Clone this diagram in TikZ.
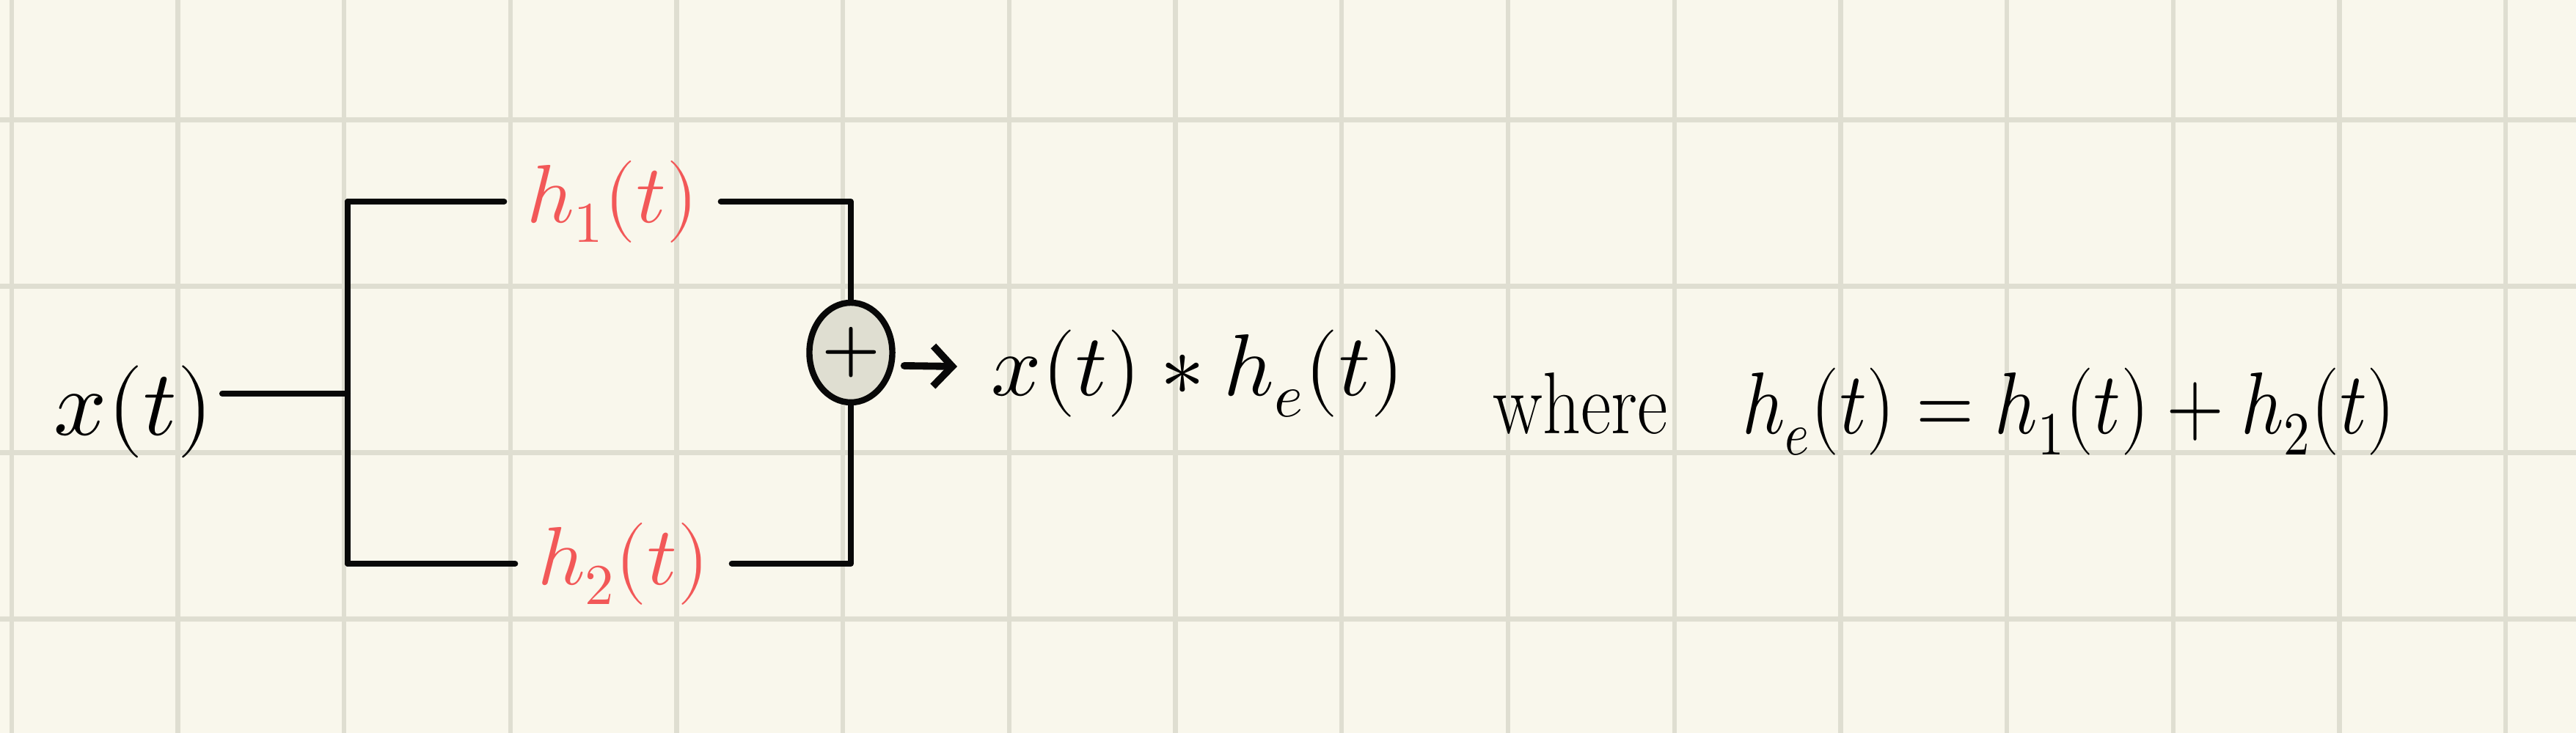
\documentclass[tikz,border=0pt]{standalone}
\usepackage{amsmath}
\usepackage{unicode-math}
\setmathfont{Latin Modern Math}
\usetikzlibrary{shapes.geometric,arrows.meta,positioning}

\definecolor{paper}{RGB}{249,247,236}
\definecolor{gridc}{RGB}{223,222,209}
\definecolor{ink}{RGB}{8,8,8}
\definecolor{penred}{RGB}{242,88,88}

\tikzset{
  gridline/.style={gridc, line width=1.8pt},
  wire/.style={ink, line width=2.3pt, line cap=round, line join=round},
  lbl/.style={inner sep=0pt, font=\fontsize{36}{40}\selectfont},
  redlbl/.style={lbl, text=penred, font=\fontsize{32}{36}\selectfont, inner xsep=0.3cm},
  sumnode/.style={ellipse, draw=ink, fill=gridc, line width=2.4pt,
    minimum width=1.0cm, minimum height=1.36cm, inner sep=0pt,
    font=\fontsize{26}{26}\selectfont\bfseries},
  arr/.style={wire, line width=2.8pt, -{Straight Barb[length=2.6mm, width=5.5mm]}},
}

\begin{document}
\begin{tikzpicture}
\useasboundingbox (0,0) rectangle (35.12,10);

% Paper with grid
\fill[paper] (0,0) rectangle (35.12,10);
\foreach \i in {0,...,15}
  \draw[gridline] ({0.157+2.267*\i},0) -- ++(0,10);
\foreach \j in {0,...,3}
  \draw[gridline] (0,{1.555+2.27*\j}) -- ++(35.12,0);

% Input and split point
\node[lbl, inner xsep=0.12cm] (xin) at (1.82,4.38) {$x(t)$};
\coordinate (split) at (4.74,4.63);
\coordinate (top) at (4.74,7.25);
\coordinate (bot) at (4.74,2.31);

% Two systems in parallel
\node[redlbl] (h1) at (8.35,7.25) {$h_1(t)$};
\node[redlbl] (h2) at (8.50,2.31) {$h_2(t)$};

% Adder
\node[sumnode] (sum) at (11.60,5.19) {+};

\draw[wire] (xin.east |- split) -- (split);
\draw[wire] (top) -- (bot);
\draw[wire] (top) -- (h1.west |- top);
\draw[wire] (bot) -- (h2.west |- bot);
\draw[wire] (h1.east) -| (sum.north);
\draw[wire] (h2.east) -| (sum.south);

% Output
\node[lbl, font=\fontsize{34}{38}\selectfont, anchor=west] (out) at (13.51,4.90) {$x(t) * h_e(t)$};
\draw[arr] ([xshift=0.12cm,yshift=-0.18cm]sum.east) -- ([xshift=-0.46cm,yshift=0.1cm]out.west);

% Equivalent system
\node[lbl, font=\fontsize{34}{38}\selectfont, anchor=west] (eq) at (20.35,4.38)
  {\scalebox{0.85}[1]{where\quad$h_e(t) = h_1(t) + h_2(t)$}};

\end{tikzpicture}
\end{document}
